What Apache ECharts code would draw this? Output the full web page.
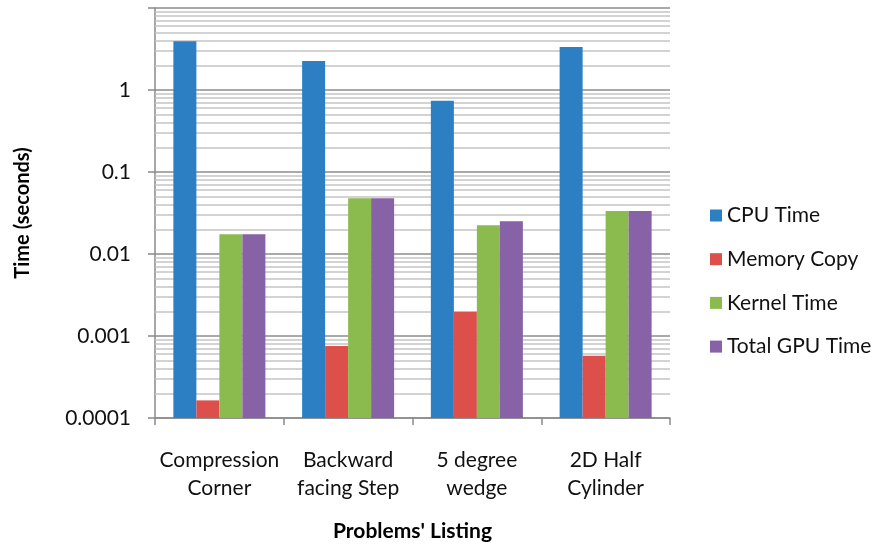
<!DOCTYPE html>
<html>
<head>
<meta charset="utf-8">
<script src="https://cdn.jsdelivr.net/npm/echarts@6/dist/echarts.min.js"></script>
<style>
  html, body { margin: 0; padding: 0; background: #fff; }
  #chart { width: 875px; height: 549px; }
</style>
</head>
<body>
<div id="chart"></div>
<script>
// categories on the x axis
var categories = ['Compression\nCorner', 'Backward\nfacing Step', '5 degree\nwedge', '2D Half\nCylinder'];
// values in seconds
var cpuTime = [3.93, 2.26, 0.74, 3.34];
var memoryCopy = [0.000164, 0.000755, 0.00198, 0.000575];
var kernelTime = [0.0174, 0.0477, 0.0224, 0.0334];
var totalGpuTime = [0.0174, 0.0477, 0.0251, 0.0334];
// tick labels of the y axis (one per decade, none at the top)
var yTickLabels = ['0.0001', '0.001', '0.01', '0.1', '1'];

var font = 'Lato, "Open Sans", sans-serif';
var chart = echarts.init(document.getElementById('chart'));

// the y axis counts decades above 0.0001, so bars grow from the bottom
var BASE = -4;
function lg(arr) {
    return arr.map(function (v) { return Math.log10(v) - BASE; });
}

// minor gridlines 2..9 in each decade (Excel style)
var minorLines = [];
for (var d = 0; d < 5; d++) {
    for (var m = 2; m <= 9; m++) {
        minorLines.push({ yAxis: d + Math.log10(m) });
    }
}

function bar(name, data, color) {
    return {
        name: name,
        type: 'bar',
        data: lg(data),
        barWidth: 23,
        barGap: '0%',
        itemStyle: { color: color },
        animation: false
    };
}

var series = [
    bar('CPU Time', cpuTime, '#2b7fc2'),
    bar('Memory Copy', memoryCopy, '#dd4f4a'),
    bar('Kernel Time', kernelTime, '#8bbb4f'),
    bar('Total GPU Time', totalGpuTime, '#8762a6')
];
series[0].markLine = {
    silent: true,
    z: 1,
    symbol: ['none', 'none'],
    label: { show: false },
    lineStyle: { type: 'solid', color: '#c4c4c4', width: 1.5 },
    emphasis: { disabled: true },
    animation: false,
    data: minorLines
};

var option = {
    backgroundColor: '#fff',
    textStyle: { fontFamily: font },
    grid: { left: 155, right: 205, top: 8, bottom: 131 },
    legend: {
        orient: 'vertical',
        left: 705,
        top: 200,
        icon: 'rect',
        itemWidth: 12,
        itemHeight: 12,
        itemGap: 22.7,
        textStyle: { fontFamily: font, fontSize: 21, color: '#111' },
        data: ['CPU Time', 'Memory Copy', 'Kernel Time', 'Total GPU Time']
    },
    xAxis: {
        type: 'category',
        data: categories,
        name: "Problems' Listing",
        nameLocation: 'middle',
        nameGap: 103,
        nameTextStyle: { fontFamily: font, fontSize: 21, fontWeight: 'bold', color: '#000' },
        axisLine: { onZero: false, lineStyle: { color: '#8a8a8a', width: 1.5 } },
        axisTick: { show: true, alignWithLabel: false, length: 7, lineStyle: { color: '#8a8a8a', width: 1.5 } },
        axisLabel: { fontFamily: font, fontSize: 21, color: '#111', margin: 28, lineHeight: 28, interval: 0 }
    },
    yAxis: {
        type: 'value',
        min: 0,
        max: 5,
        interval: 1,
        name: 'Time (seconds)',
        nameLocation: 'middle',
        nameGap: 122,
        nameTextStyle: { fontFamily: font, fontSize: 20, fontWeight: 'bold', color: '#000' },
        axisLine: { show: true, lineStyle: { color: '#8a8a8a', width: 1.5 } },
        axisTick: { show: true, length: 7, lineStyle: { color: '#8a8a8a', width: 1.5 } },
        axisLabel: {
            fontFamily: font, fontSize: 21, color: '#111', margin: 24,
            formatter: function (v) {
                return yTickLabels[Math.round(v)] || '';
            }
        },
        splitLine: { show: true, lineStyle: { color: '#8c8c8c', width: 1.5 } }
    },
    series: series
};

chart.setOption(option);
</script>
</body>
</html>
